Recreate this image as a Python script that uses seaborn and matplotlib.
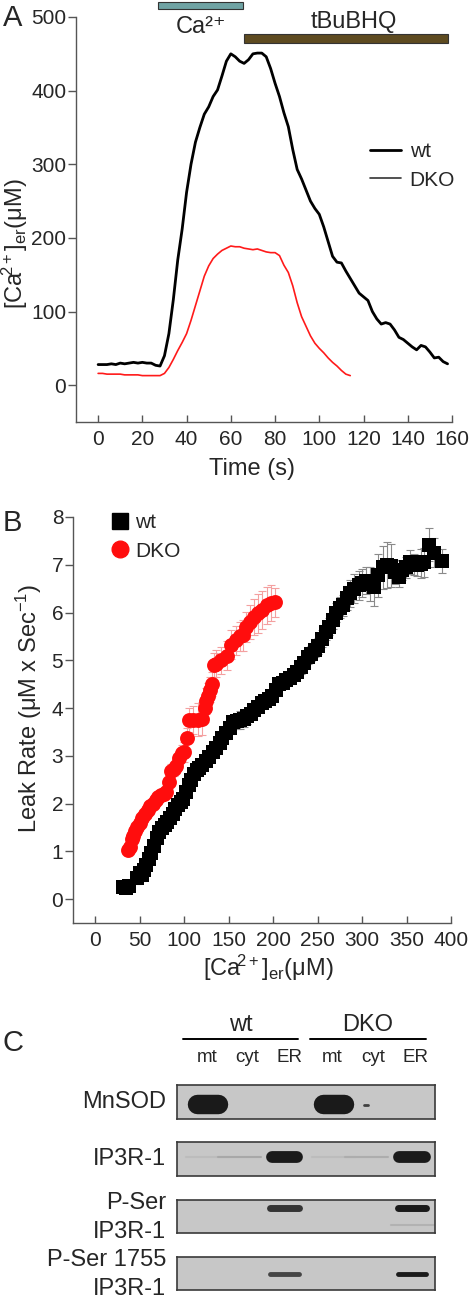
import numpy as np
import pandas as pd
import matplotlib
matplotlib.use("Agg")
import matplotlib.pyplot as plt
import seaborn as sns
from matplotlib.lines import Line2D

sns.set_style("white")
plt.rcParams["font.family"] = ["Liberation Sans", "DejaVu Sans"]
plt.rcParams["mathtext.fontset"] = "custom"
plt.rcParams["mathtext.rm"] = "Liberation Sans"
plt.rcParams["mathtext.it"] = "Liberation Sans:italic"

# ---------------- data: panel A (ER Ca2+ traces) ----------------
wt_time = [0, 2, 4, 6, 8, 10, 12, 14, 16, 18, 20, 22, 24, 26, 28, 30, 32, 34, 36, 38,
           40, 42, 44, 46, 48, 50, 52, 54, 56, 58, 60, 62, 64, 66, 68, 70, 72, 74, 76, 78,
           80, 82, 84, 86, 88, 90, 92, 94, 96, 98, 100, 102, 104, 106, 108, 110, 112, 114, 116, 118,
           120, 122, 124, 126, 128, 130, 132, 134, 136, 138, 140, 142, 144, 146, 148, 150, 152, 154, 156, 158]
wt_ca = [28, 28, 28, 29, 28, 30, 29, 30, 31, 30, 31, 30, 30, 27, 26, 40, 70, 116, 170, 212,
         262, 300, 330, 350, 368, 378, 392, 401, 420, 440, 450, 446, 440, 437, 442, 450, 451, 451, 446, 430,
         410, 392, 370, 351, 320, 293, 280, 265, 250, 240, 232, 215, 195, 175, 167, 166, 155, 145, 135, 125,
         120, 115, 100, 90, 83, 85, 83, 75, 65, 62, 57, 52, 48, 54, 52, 45, 37, 38, 32, 29]

dko_time = [0, 2, 4, 6, 8, 10, 12, 14, 16, 18, 20, 22, 24, 26, 28, 30, 32, 34, 36, 38,
            40, 42, 44, 46, 48, 50, 52, 54, 56, 58, 60, 62, 64, 66, 68, 70, 72, 74, 76, 78,
            80, 82, 84, 86, 88, 90, 92, 94, 96, 98, 100, 102, 104, 106, 108, 110, 112, 114]
dko_ca = [16, 16, 15, 15, 15, 15, 14, 14, 14, 14, 13, 13, 13, 13, 13, 16, 24, 35, 47, 58,
          70, 88, 108, 128, 148, 162, 172, 178, 183, 186, 189, 188, 188, 186, 185, 184, 185, 183, 181, 180,
          180, 176, 163, 153, 135, 112, 93, 80, 67, 57, 50, 44, 37, 31, 26, 20, 15, 13]

# treatment bars (start, end in s)
ca_bar = [27, 65.5]
bhq_bar = [66, 158]

# ---------------- data: panel B (leak rate vs [Ca2+]er) ----------------
wt_x = [31, 35, 38, 47, 50, 53, 55, 57, 60, 63, 66, 69, 72, 75, 78, 81, 84, 87, 90, 93,
        96, 99, 102, 105, 108, 111, 114, 117, 120, 124, 128, 132, 136, 140, 143, 147, 151, 155, 159, 163,
        167, 171, 175, 179, 183, 187, 191, 195, 199, 203, 207, 211, 215, 219, 223, 227, 231, 235, 239, 243,
        247, 251, 255, 259, 263, 267, 271, 275, 279, 283, 287, 291, 296, 300, 304, 309, 313, 318, 323, 328,
        332, 337, 341, 345, 349, 354, 358, 362, 366, 370, 375, 381, 390]
wt_y = [0.26, 0.24, 0.27, 0.45, 0.55, 0.50, 0.60, 0.72, 0.85, 0.97, 1.12, 1.27, 1.40, 1.48, 1.55, 1.62, 1.70, 1.78, 1.88, 1.96,
        2.03, 2.10, 2.25, 2.38, 2.50, 2.62, 2.70, 2.74, 2.80, 2.90, 2.98, 3.08, 3.16, 3.27, 3.37, 3.48, 3.58, 3.70, 3.73, 3.75,
        3.78, 3.83, 3.88, 3.96, 4.03, 4.10, 4.15, 4.20, 4.26, 4.38, 4.50, 4.53, 4.58, 4.63, 4.70, 4.76, 4.85, 4.95, 5.06, 5.14,
        5.22, 5.30, 5.45, 5.60, 5.70, 5.85, 6.00, 6.10, 6.15, 6.30, 6.40, 6.50, 6.57, 6.62, 6.67, 6.60, 6.53, 6.78, 6.95, 6.99,
        6.98, 6.85, 6.74, 6.88, 6.95, 7.05, 7.00, 6.99, 7.02, 7.05, 7.42, 7.25, 7.08]
wt_err = [0.12, 0.12, 0.12, 0.14, 0.14, 0.12, 0.12, 0.12, 0.12, 0.12, 0.12, 0.12, 0.12, 0.12, 0.12, 0.12, 0.12, 0.12, 0.12, 0.12,
          0.12, 0.12, 0.12, 0.12, 0.12, 0.12, 0.12, 0.12, 0.12, 0.12, 0.12, 0.12, 0.12, 0.12, 0.12, 0.12, 0.12, 0.14, 0.16, 0.18,
          0.18, 0.16, 0.14, 0.12, 0.12, 0.12, 0.12, 0.12, 0.12, 0.12, 0.12, 0.12, 0.12, 0.12, 0.12, 0.12, 0.14, 0.14, 0.14, 0.16,
          0.16, 0.16, 0.18, 0.18, 0.18, 0.20, 0.20, 0.22, 0.22, 0.25, 0.28, 0.30, 0.30, 0.30, 0.28, 0.35, 0.40, 0.45, 0.45, 0.48,
          0.45, 0.25, 0.20, 0.20, 0.22, 0.25, 0.22, 0.22, 0.30, 0.30, 0.35, 0.30, 0.25]

dko_x = [37, 39, 41, 43, 45, 47, 50, 53, 56, 59, 62, 65, 68, 71, 74, 77, 80, 83, 85, 88,
         91, 94, 97, 100, 103, 105, 110, 115, 120, 123, 125, 127, 129, 131, 133, 136, 141, 148, 153, 158,
         163, 166, 170, 174, 178, 183, 188, 193, 198, 202]
dko_y = [1.03, 1.10, 1.25, 1.32, 1.42, 1.50, 1.60, 1.70, 1.78, 1.87, 1.95, 2.00, 2.08, 2.13, 2.17, 2.20, 2.24, 2.45, 2.68, 2.72,
         2.78, 2.95, 3.05, 3.08, 3.37, 3.75, 3.75, 3.76, 3.78, 4.00, 4.15, 4.25, 4.38, 4.50, 4.90, 4.93, 5.00, 5.10, 5.33, 5.42,
         5.50, 5.52, 5.70, 5.80, 5.90, 5.98, 6.05, 6.15, 6.20, 6.21]
dko_err = [0.08, 0.08, 0.08, 0.08, 0.08, 0.08, 0.08, 0.08, 0.10, 0.10, 0.10, 0.10, 0.12, 0.12, 0.12, 0.12, 0.12, 0.14, 0.14, 0.14,
           0.15, 0.15, 0.18, 0.20, 0.22, 0.25, 0.30, 0.35, 0.35, 0.30, 0.28, 0.28, 0.26, 0.25, 0.25, 0.28, 0.28, 0.30, 0.30, 0.30,
           0.30, 0.32, 0.32, 0.35, 0.38, 0.40, 0.40, 0.38, 0.38, 0.30]

# ---------------- data: panel C (western blots) ----------------
lanes = ["mt", "cyt", "ER", "mt", "cyt", "ER"]
groups = ["wt", "DKO"]
blot_names = ["MnSOD", "IP3R-1", "P-Ser\nIP3R-1", "P-Ser 1755\nIP3R-1"]
# band darkness per lane (0 = none, 1 = saturated)
mnsod_band = [1.0, 0.0, 0.0, 1.0, 0.55, 0.0]
ip3r_band = [0.06, 0.18, 1.0, 0.06, 0.15, 1.0]
pser_band = [0.0, 0.0, 0.85, 0.0, 0.0, 1.0]
pser_low_band = [0.0, 0.0, 0.0, 0.0, 0.0, 0.12]
pser1755_band = [0.0, 0.0, 0.75, 0.0, 0.0, 1.0]

W, H = 470, 1300
fig = plt.figure(figsize=(4.7, 13), dpi=100)


def fx(px):
    return px / W


def fy(py):
    return 1 - py / H


def box(l, t, r, b):
    return [fx(l), fy(b), fx(r) - fx(l), fy(t) - fy(b)]


spine_col = "#555555"
tick_fs = 15
lab_fs = 17
ca_lab = "$\\mathregular{[Ca\\!^{2+}]_{er}(μM)}$"

# ================= Panel A =================
axA = fig.add_axes(box(76, 17, 452, 422))
dfA_wt = pd.DataFrame({"time": wt_time, "ca": wt_ca})
dfA_dko = pd.DataFrame({"time": dko_time, "ca": dko_ca})
sns.lineplot(data=dfA_wt, x="time", y="ca", color="black", lw=2.0, ax=axA)
sns.lineplot(data=dfA_dko, x="time", y="ca", color="#ff1a1a", lw=1.2, ax=axA)
axA.set_xlim(-10, 160)
axA.set_ylim(-50, 500)
axA.set_xticks(range(0, 161, 20))
axA.set_yticks(range(0, 501, 100))
axA.set_xlabel("")
axA.set_ylabel("")
axA.barh(516, ca_bar[1] - ca_bar[0], left=ca_bar[0], height=9, color="#6fa3a4",
         edgecolor="#333333", lw=0.8, clip_on=False)
axA.barh(471, bhq_bar[1] - bhq_bar[0], left=bhq_bar[0], height=12, color="#5e4b20",
         edgecolor="#333333", lw=0.8, clip_on=False)
axA.text(46.5, 487, "Ca²⁺", ha="center", va="center", fontsize=17)
axA.text(115.5, 493, "tBuBHQ", ha="center", va="center", fontsize=17)
leg_handles = [Line2D([], [], color="black", lw=2.0), Line2D([], [], color="#333333", lw=1.2)]
axA.legend(leg_handles, ["wt", "DKO"], frameon=False, fontsize=15, handlelength=1.5,
           handletextpad=0.4, labelspacing=0.45, loc="center left", borderpad=0,
           borderaxespad=0, bbox_to_anchor=(fx(370), fy(166)), bbox_transform=fig.transFigure)
fig.text(fx(15), fy(244), ca_lab, rotation=90, ha="center", va="center", fontsize=lab_fs)
fig.text(fx(252), fy(469), "Time (s)", ha="center", va="center", fontsize=lab_fs)
fig.text(fx(3), fy(18), "A", ha="left", va="center", fontsize=21)

# ================= Panel B =================
axB = fig.add_axes(box(73, 517, 451, 923))
axB.errorbar(wt_x, wt_y, yerr=wt_err, fmt="none", ecolor="#8a8a8a", elinewidth=0.8,
             capsize=3, capthick=0.8, zorder=1)
axB.errorbar(dko_x, dko_y, yerr=dko_err, fmt="none", ecolor="#f4a0a0", elinewidth=0.8,
             capsize=3, capthick=0.8, zorder=1)
dfB_wt = pd.DataFrame({"ca": wt_x, "leak": wt_y})
dfB_dko = pd.DataFrame({"ca": dko_x, "leak": dko_y})
sns.scatterplot(data=dfB_wt, x="ca", y="leak", marker="s", s=95, color="black",
                edgecolor="black", linewidth=0, ax=axB, zorder=2)
sns.scatterplot(data=dfB_dko, x="ca", y="leak", marker="o", s=115, color="#ff0d0d",
                edgecolor="#ff0d0d", linewidth=0, ax=axB, zorder=2)
axB.set_xlim(-25, 400)
axB.set_ylim(-0.5, 8)
axB.set_xticks(range(0, 401, 50))
axB.set_yticks(range(0, 9))
axB.set_xlabel("")
axB.set_ylabel("")
legB = [Line2D([], [], marker="s", ls="", color="black", markersize=11),
        Line2D([], [], marker="o", ls="", color="#ff0d0d", markersize=12)]
axB.legend(legB, ["wt", "DKO"], frameon=False, fontsize=15, handletextpad=0.1,
           handlelength=1.3, labelspacing=0.45, loc="center left", borderpad=0,
           borderaxespad=0, bbox_to_anchor=(fx(106), fy(537)), bbox_transform=fig.transFigure)
fig.text(fx(29), fy(708), "Leak Rate (μM x Sec$^{-1}$)", rotation=90, ha="center", va="center", fontsize=lab_fs)
fig.text(fx(268), fy(968), ca_lab, ha="center", va="center", fontsize=lab_fs)
fig.text(fx(3), fy(523), "B", ha="left", va="center", fontsize=21)

for ax in (axA, axB):
    sns.despine(ax=ax)
    for s in ("left", "bottom"):
        ax.spines[s].set_color(spine_col)
        ax.spines[s].set_linewidth(1.0)
    ax.tick_params(axis="y", direction="out", length=6, width=1, color=spine_col,
                   labelsize=tick_fs, pad=1, left=True)
    ax.tick_params(axis="x", direction="in", length=5, width=1, color=spine_col,
                   labelsize=tick_fs, pad=6, bottom=True)

# ================= Panel C =================
fig.text(fx(3), fy(1043), "C", ha="left", va="center", fontsize=21)
lane_pos = [0.71, 1.45, 2.5, 3.64, 4.4, 5.47]
for g, (l, r) in zip(groups, [(183, 298), (310, 426)]):
    fig.add_artist(Line2D([fx(l), fx(r)], [fy(1039), fy(1039)], color="black", lw=1.4))
    fig.text(fx((l + r) / 2), fy(1025), g, ha="center", va="center", fontsize=17)
lane_lbl_x = [207, 247, 290, 332, 373, 415]
for name, xp in zip(lanes, lane_lbl_x):
    fig.text(fx(xp), fy(1057), name, ha="center", va="center", fontsize=13.5)

blot_boxes = [(1085, 1119), (1142, 1176), (1200, 1233), (1257, 1290)]
blot_bands = [
    [(mnsod_band, 0.55, 14.0, 0.25)],
    [(ip3r_band, 0.45, 8.5, 0.3)],
    [(pser_band, 0.25, 5.0, 0.33), (pser_low_band, 0.76, 4.0, 0.33)],
    [(pser1755_band, 0.52, 3.5, 0.33)],
]
bg = 0.78
for (top, bot), bands, name in zip(blot_boxes, blot_bands, blot_names):
    axC = fig.add_axes(box(177, top, 435, bot))
    axC.set_facecolor((bg, bg, bg))
    axC.set_xlim(0, 6)
    axC.set_ylim(1, 0)
    axC.set_xticks([])
    axC.set_yticks([])
    for s in axC.spines.values():
        s.set_color("#3a3a3a")
        s.set_linewidth(1.2)
    for vals, yc, lw, half in bands:
        for xc, v in zip(lane_pos, vals):
            if v <= 0:
                continue
            g = bg * (1 - v) + 0.1 * v
            if v < 0.6 and name == "MnSOD":
                axC.plot([xc - 0.04, xc + 0.04], [yc + 0.05, yc + 0.05], color=(0.25, 0.25, 0.25),
                         lw=2.0, solid_capstyle="round")
                continue
            bw = half if v > 0.3 else 0.5
            lwb = lw if v > 0.3 else 1.5
            axC.plot([xc - bw, xc + bw], [yc, yc], color=(g, g, g), lw=lwb,
                     solid_capstyle="round")
    lines = name.split("\n")
    if len(lines) == 1:
        fig.text(fx(166), fy((top + bot) / 2), lines[0], ha="right", va="center", fontsize=17)
    else:
        fig.text(fx(166), fy(top + 3), lines[0], ha="right", va="center", fontsize=17)
        fig.text(fx(166), fy(top + 32), lines[1], ha="right", va="center", fontsize=17)

fig.savefig("out.png", dpi=100)
